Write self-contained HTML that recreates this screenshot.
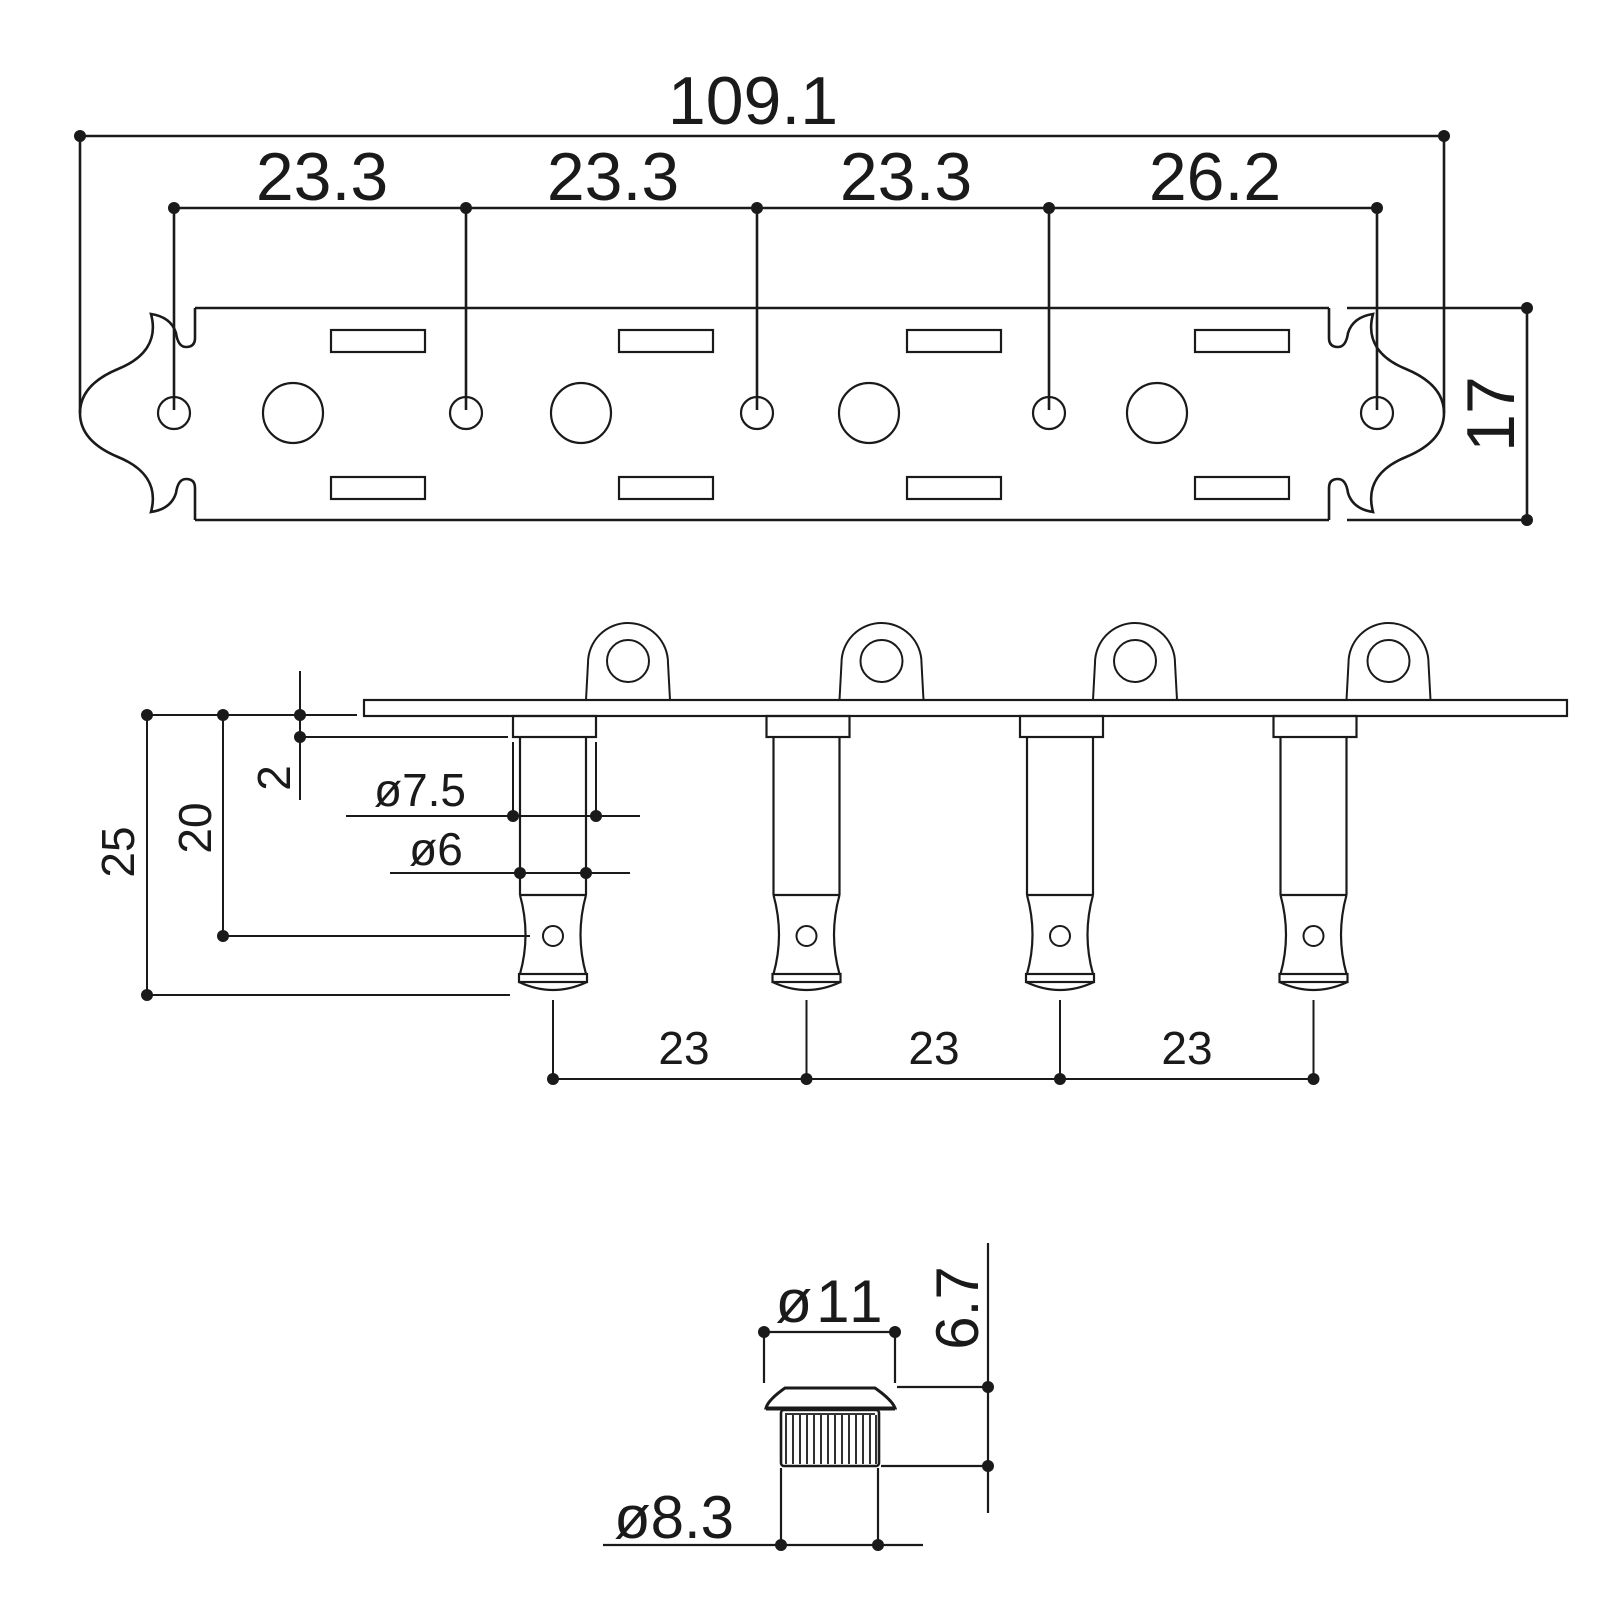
<!DOCTYPE html>
<html><head><meta charset="utf-8"><style>
html,body{margin:0;padding:0;background:#fff;}
svg{display:block;}
text{font-family:"Liberation Sans",sans-serif;fill:#1a1a1a;}
</style></head><body>
<svg width="1600" height="1600" viewBox="0 0 1600 1600" xmlns="http://www.w3.org/2000/svg">
<defs>
<g id="lobe">
<path d="M195,308 V338 Q195,347 186,347 Q178,347 176,333 Q171,317 151,314 C158,340 145,358 118,369 C94,379 80,393 80,413 C80,433 94,447 118,457 C145,468 158,486 151,512 Q171,509 176,493 Q178,479 186,479 Q195,479 195,488 V520" fill="none" stroke="#1a1a1a" stroke-width="2.6"/>
</g>
<g id="post">
<path d="M33,700 L35,663 A40,40 0 0 1 115,663 L117,700" fill="none" stroke="#1a1a1a" stroke-width="2"/>
<circle cx="75" cy="661" r="21" fill="none" stroke="#1a1a1a" stroke-width="2"/>
<rect x="-40" y="716" width="83" height="21" fill="none" stroke="#1a1a1a" stroke-width="2.2"/>
<line x1="-33" y1="737" x2="-33" y2="895" stroke="#1a1a1a" stroke-width="2.2"/>
<line x1="33" y1="737" x2="33" y2="895" stroke="#1a1a1a" stroke-width="2.2"/>
<line x1="-33" y1="895" x2="33" y2="895" stroke="#1a1a1a" stroke-width="2.2"/>
<path d="M-33,895 Q-22,935 -33,974 M33,895 Q22,935 33,974" fill="none" stroke="#1a1a1a" stroke-width="2.2"/>
<rect x="-34" y="974" width="68" height="8" fill="none" stroke="#1a1a1a" stroke-width="2.2"/>
<path d="M-34,982 Q0,998 34,982" fill="none" stroke="#1a1a1a" stroke-width="2.2"/>
<circle cx="0" cy="936" r="10" fill="none" stroke="#1a1a1a" stroke-width="2"/>
</g>
</defs>
<g stroke="#1a1a1a" stroke-width="2.6" fill="none">
<line x1="195" y1="308" x2="1329" y2="308"/>
<line x1="195" y1="520" x2="1329" y2="520"/>
<use href="#lobe"/>
<use href="#lobe" transform="translate(1524,0) scale(-1,1)"/>
<g stroke-width="2.2">
<circle cx="174" cy="413" r="16"/><circle cx="466" cy="413" r="16"/><circle cx="757" cy="413" r="16"/><circle cx="1049" cy="413" r="16"/><circle cx="1377" cy="413" r="16"/>
<circle cx="293" cy="413" r="30"/><circle cx="581" cy="413" r="30"/><circle cx="869" cy="413" r="30"/><circle cx="1157" cy="413" r="30"/>
<rect x="331" y="330" width="94" height="22"/><rect x="619" y="330" width="94" height="22"/><rect x="907" y="330" width="94" height="22"/><rect x="1195" y="330" width="94" height="22"/>
<rect x="331" y="477" width="94" height="22"/><rect x="619" y="477" width="94" height="22"/><rect x="907" y="477" width="94" height="22"/><rect x="1195" y="477" width="94" height="22"/>
</g>
<line x1="80" y1="136" x2="1444" y2="136"/>
<line x1="80" y1="136" x2="80" y2="413"/>
<line x1="1444" y1="136" x2="1444" y2="413"/>
<line x1="174" y1="208" x2="1377" y2="208"/>
<line x1="174" y1="208" x2="174" y2="410"/><line x1="466" y1="208" x2="466" y2="410"/><line x1="757" y1="208" x2="757" y2="410"/><line x1="1049" y1="208" x2="1049" y2="410"/><line x1="1377" y1="208" x2="1377" y2="410"/>
<line x1="1347" y1="308" x2="1527" y2="308"/>
<line x1="1347" y1="520" x2="1527" y2="520"/>
<line x1="1527" y1="308" x2="1527" y2="520"/>
<rect x="364" y="700" width="1203" height="16" stroke-width="2.2"/>
<line x1="147" y1="715" x2="357" y2="715" stroke-width="2"/>
<line x1="147" y1="715" x2="147" y2="995" stroke-width="2"/>
<line x1="147" y1="995" x2="510" y2="995" stroke-width="2"/>
<line x1="223" y1="715" x2="223" y2="936" stroke-width="2"/>
<line x1="223" y1="936" x2="530" y2="936" stroke-width="2"/>
<line x1="300" y1="671" x2="300" y2="800" stroke-width="2"/>
<line x1="300" y1="737" x2="508" y2="737" stroke-width="2"/>
<line x1="513" y1="742" x2="513" y2="816" stroke-width="2"/>
<line x1="596" y1="742" x2="596" y2="816" stroke-width="2"/>
<line x1="346" y1="816" x2="640" y2="816" stroke-width="2"/>
<line x1="390" y1="873" x2="630" y2="873" stroke-width="2"/>
<line x1="553" y1="1000" x2="553" y2="1079" stroke-width="2"/>
<line x1="806.5" y1="1000" x2="806.5" y2="1079" stroke-width="2"/>
<line x1="1060" y1="1000" x2="1060" y2="1079" stroke-width="2"/>
<line x1="1313.5" y1="1000" x2="1313.5" y2="1079" stroke-width="2"/>
<line x1="553" y1="1079" x2="1313.5" y2="1079" stroke-width="2"/>
<line x1="764" y1="1332" x2="895" y2="1332" stroke-width="2.2"/>
<line x1="764" y1="1332" x2="764" y2="1383" stroke-width="2.2"/>
<line x1="895" y1="1332" x2="895" y2="1383" stroke-width="2.2"/>
<path d="M766,1408 Q768,1400 785,1388 L875,1388 Q892,1400 895,1408 Z" stroke-width="3"/>
<line x1="766" y1="1409" x2="895" y2="1409" stroke-width="3"/>
<rect x="781" y="1410" width="98" height="56" rx="3" stroke-width="2.6"/>
<g stroke-width="1.8">
<line x1="785" y1="1414" x2="875" y2="1414"/>
<line x1="786" y1="1415" x2="786" y2="1464"/><line x1="793" y1="1415" x2="793" y2="1464"/><line x1="800" y1="1415" x2="800" y2="1464"/><line x1="807" y1="1415" x2="807" y2="1464"/><line x1="814" y1="1415" x2="814" y2="1464"/><line x1="821" y1="1415" x2="821" y2="1464"/><line x1="828" y1="1415" x2="828" y2="1464"/><line x1="835" y1="1415" x2="835" y2="1464"/><line x1="842" y1="1415" x2="842" y2="1464"/><line x1="849" y1="1415" x2="849" y2="1464"/><line x1="856" y1="1415" x2="856" y2="1464"/><line x1="863" y1="1415" x2="863" y2="1464"/><line x1="870" y1="1415" x2="870" y2="1464"/><line x1="876" y1="1415" x2="876" y2="1464"/>
</g>
<line x1="781" y1="1468" x2="781" y2="1545" stroke-width="2.2"/>
<line x1="878" y1="1468" x2="878" y2="1545" stroke-width="2.2"/>
<line x1="603" y1="1545" x2="923" y2="1545" stroke-width="2.2"/>
<line x1="988" y1="1243" x2="988" y2="1513" stroke-width="2.2"/>
<line x1="897" y1="1387" x2="988" y2="1387" stroke-width="2.2"/>
<line x1="881" y1="1466" x2="988" y2="1466" stroke-width="2.2"/>
</g>
<use href="#post" x="553"/>
<use href="#post" x="806.5"/>
<use href="#post" x="1060"/>
<use href="#post" x="1313.5"/>
<g fill="#1a1a1a">
<circle cx="80" cy="136" r="6"/><circle cx="1444" cy="136" r="6"/>
<circle cx="174" cy="208" r="6"/><circle cx="466" cy="208" r="6"/><circle cx="757" cy="208" r="6"/><circle cx="1049" cy="208" r="6"/><circle cx="1377" cy="208" r="6"/>
<circle cx="1527" cy="308" r="6"/><circle cx="1527" cy="520" r="6"/>
<circle cx="147" cy="715" r="6"/><circle cx="147" cy="995" r="6"/><circle cx="223" cy="715" r="6"/><circle cx="223" cy="936" r="6"/>
<circle cx="300" cy="715" r="6"/><circle cx="300" cy="737" r="6"/>
<circle cx="513" cy="816" r="6"/><circle cx="596" cy="816" r="6"/><circle cx="520" cy="873" r="6"/><circle cx="586" cy="873" r="6"/>
<circle cx="553" cy="1079" r="6"/><circle cx="806.5" cy="1079" r="6"/><circle cx="1060" cy="1079" r="6"/><circle cx="1313.5" cy="1079" r="6"/>
<circle cx="764" cy="1332" r="6"/><circle cx="895" cy="1332" r="6"/>
<circle cx="988" cy="1387" r="6"/><circle cx="988" cy="1466" r="6"/>
<circle cx="781" cy="1545" r="6"/><circle cx="878" cy="1545" r="6"/>
</g>
<g font-size="68" text-anchor="middle">
<text x="753" y="124">109.1</text>
<text x="322" y="200">23.3</text>
<text x="613" y="200">23.3</text>
<text x="906" y="200">23.3</text>
<text x="1215" y="200">26.2</text>
<text transform="translate(1514,414) rotate(-90)">17</text>
</g>
<g font-size="46" text-anchor="middle">
<text transform="translate(134,852) rotate(-90)">25</text>
<text transform="translate(211,828) rotate(-90)">20</text>
<text transform="translate(290,778) rotate(-90)">2</text>
<text x="420" y="806">ø7.5</text>
<text x="436" y="865">ø6</text>
<text x="684" y="1064">23</text>
<text x="934" y="1064">23</text>
<text x="1187" y="1064">23</text>
</g>
<g font-size="60" text-anchor="middle">
<text x="831" y="1322" letter-spacing="4">ø11</text>
<text transform="translate(978,1308) rotate(-90)">6.7</text>
<text x="674" y="1538">ø8.3</text>
</g>
</svg>
</body></html>
